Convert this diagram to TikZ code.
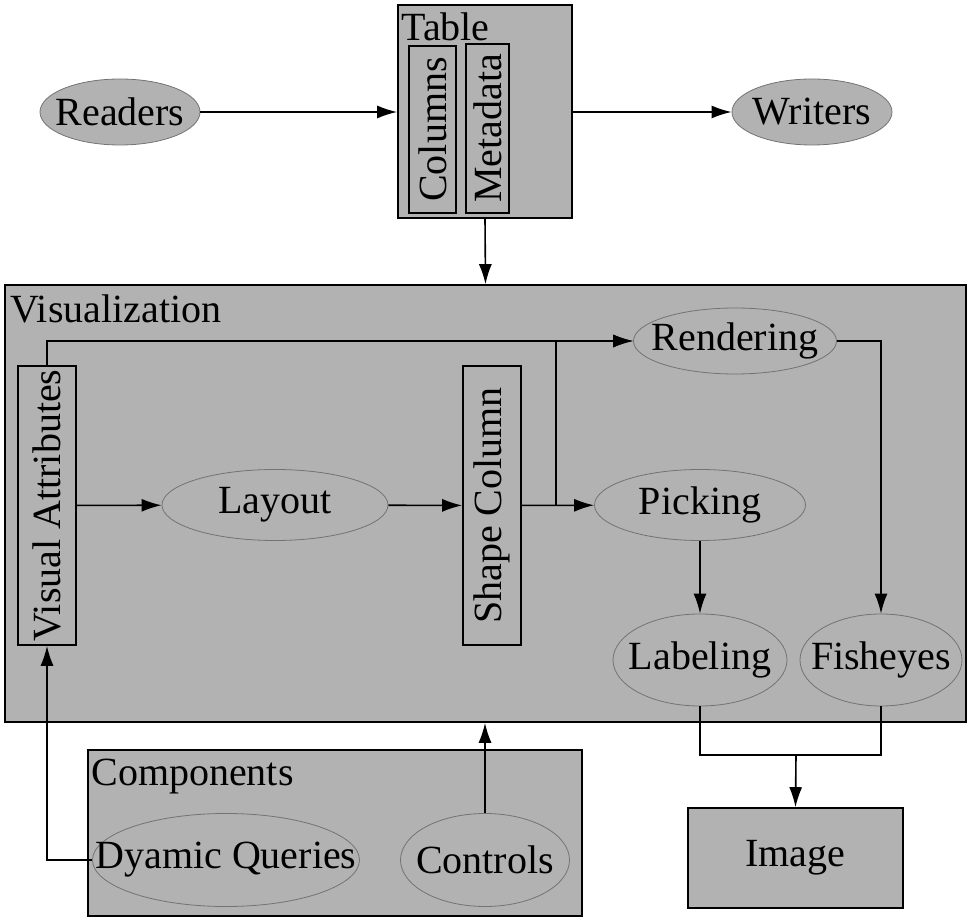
\documentclass[tikz,border=0pt]{standalone}
\usepackage{fontspec}
\setmainfont{Liberation Serif}
\usetikzlibrary{arrows.meta,positioning,shapes.geometric}
\newcommand{\etext}[1]{\makebox[0pt]{#1}}
\tikzset{%
  font=\fontsize{20}{24}\selectfont,
  >={Latex[length=10pt,width=6.5pt]},
  group/.style={draw,rectangle,line width=0.8pt,fill=black!30,inner sep=0pt},
  ell/.style={draw=black!55,ellipse,line width=0.4pt,fill=black!30,inner sep=0pt},
  vbox/.style={draw,rectangle,line width=0.8pt,fill=black!30,inner sep=0pt,rotate=90},
  title/.style={anchor=north west,inner sep=0pt},
  line/.style={draw,line width=0.8pt}
}
\begin{document}
\begin{tikzpicture}[x=0.5pt,y=-0.5pt]
	\useasboundingbox (0,0) rectangle (975,924);
	% containers
	\node[group,minimum width=87pt,minimum height=106.5pt] (table) at (485,111.5) {};
	\node[group,minimum width=480.5pt,minimum height=218.5pt] (vis) at (485.5,503.5) {};
	\node[group,minimum width=247pt,minimum height=83pt] (comp) at (335,833) {};
	\node[group,minimum width=107.5pt,minimum height=50pt] (img) at (795.5,858) {Image};
	
	\node[title] at (401,12) {Table};
	\node[title] at (10,294) {Visualization};
	\node[title] at (91,759) {Components};
	
	% vertical boxes
	\node[vbox,minimum width=83.5pt,minimum height=23.5pt] (columns) at (432.5,129.5) {Columns};
	\node[vbox,minimum width=84.5pt,minimum height=21.5pt] (meta) at (487.5,128.5) {Metadata};
	\node[vbox,minimum width=139.5pt,minimum height=29pt] (va) at (47,505.5) {Visual Attributes};
	\node[vbox,minimum width=139.5pt,minimum height=29pt] (shape) at (492,505.5) {Shape Column};
	
	% ellipses
	\node[ell,minimum width=80pt,minimum height=33pt] (readers) at (120,112) {\etext{Readers}};
	\node[ell,minimum width=80pt,minimum height=33pt] (writers) at (812,112) {\etext{Writers}};
	\node[ell,minimum width=113pt,minimum height=35.5pt] (layout) at (275,505) {\etext{Layout}};
	\node[ell,minimum width=101.5pt,minimum height=33pt] (rend) at (735,341) {\etext{Rendering}};
	\node[ell,minimum width=105.5pt,minimum height=35.5pt] (pick) at (700,505) {\etext{Picking}};
	\node[ell,minimum width=87pt,minimum height=46pt] (lab) at (700,660) {\etext{Labeling}};
	\node[ell,minimum width=81pt,minimum height=46pt] (fish) at (881,660) {\etext{Fisheyes}};
	\node[ell,minimum width=133.5pt,minimum height=46.5pt] (dq) at (226,860) {\etext{Dyamic Queries}};
	\node[ell,minimum width=84.5pt,minimum height=46.5pt] (ctrl) at (485,860) {\etext{Controls}};
	
	\coordinate (split) at (556,505);
	\coordinate (merge) at (796,755);
	
	% connectors
	\draw[line,->] (readers.east) -- (readers.east -| table.west);
	\draw[line,->] (table.east |- writers.west) -- (writers.west);
	\draw[line,->] (table.south) -- (vis.north);
	\draw[line,->] (va) -- (layout);
	\draw[line,->] (layout) -- (shape);
	\draw[line,->] (va.east) |- (rend.west);
	\draw[line,->] (shape) -- (pick);
	\draw[line,->] (split) |- (rend.west);
	\draw[line,->] (rend.east) -| (fish.north);
	\draw[line,->] (pick.south) -- (lab.north);
	\draw[line] (lab.south) |- (merge) -| (fish.south);
	\draw[line,->] (merge) -- (img.north);
	\draw[line,->] (dq.west) -| (va.west);
	\draw[line,->] (ctrl.north) -- (ctrl.north |- vis.south);
\end{tikzpicture}
\end{document}
